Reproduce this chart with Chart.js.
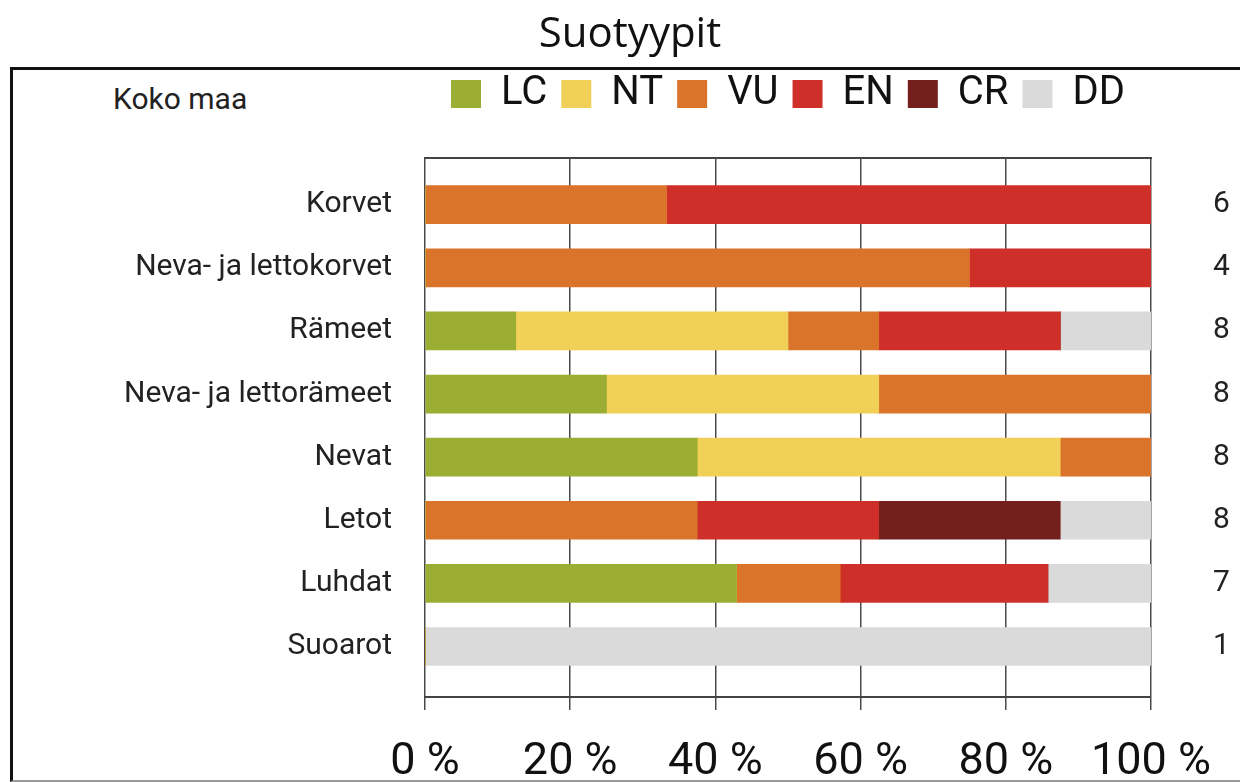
<!DOCTYPE html>
<html lang="fi">
<head>
  <meta charset="UTF-8">
  <title>Suotyypit</title>
  <script src="https://cdn.jsdelivr.net/npm/chart.js"></script>
  <style>
    html, body { margin: 0; padding: 0; background: #fff; overflow: hidden; }
    /* outer frame of the figure */
    #frame {
      position: absolute; left: 10px; top: 67px;
      width: 1300px; height: 710px;
      border-left: 3px solid #111; border-top: 3px solid #111;
      border-bottom: 2px solid #999;
    }
    #region {
      position: absolute; left: 113px; top: 84px;
      font: 30px Roboto, sans-serif; line-height: 30px; color: #222;
    }
    #chart { position: absolute; left: 0; top: 0; }
  </style>
</head>
<body>
  <div id="frame"></div>
  <div id="region">Koko maa</div>
  <canvas id="chart" width="1240" height="782"></canvas>

  <script>
    // habitat groups, top to bottom, and number of assessed types in each
    const labels = ['Korvet', 'Neva- ja lettokorvet', 'Rämeet', 'Neva- ja lettorämeet',
                    'Nevat', 'Letot', 'Luhdat', 'Suoarot'];
    const counts = [6, 4, 8, 8, 8, 8, 7, 1];

    // share of types per threat class (%)
    const LC = [0, 0, 12.5, 25, 37.5, 0, 42.9, 0];
    const NT = [0, 0, 37.5, 37.5, 50, 0, 0, 0];
    const VU = [33.3, 75, 12.5, 37.5, 12.5, 37.5, 14.3, 0];
    const EN = [66.7, 25, 25, 0, 0, 25, 28.6, 0];
    const CR = [0, 0, 0, 0, 0, 25, 0, 0];
    const DD = [0, 0, 12.5, 0, 0, 12.5, 14.3, 100];

    const xTicks = [0, 20, 40, 60, 80, 100];

    const series = [
      ['LC', LC, '#9bae33'],
      ['NT', NT, '#f1d057'],
      ['VU', VU, '#da742b'],
      ['EN', EN, '#ce2f29'],
      ['CR', CR, '#73201d'],
      ['DD', DD, '#dadada']
    ];

    const FONT = 'Roboto, "Noto Sans", sans-serif';
    const gridCol = '#4a4a4a';

    const datasets = series.map(function(s) {
      return {
        label: s[0],
        data: s[1].map(function(v, i) { return {x: v, y: i}; }),
        backgroundColor: s[2],
        borderWidth: 0,
        barThickness: 38
      };
    });

    // rows sit on a linear index axis so the plot frame can extend past the first/last bar
    const yMin = -0.74, yMax = 7.8;

    new Chart(document.getElementById('chart'), {
      type: 'bar',
      data: { datasets: datasets },
      options: {
        indexAxis: 'y',
        responsive: false,
        animation: false,
        layout: { padding: { left: 20 } },
        scales: {
          x: {
            type: 'linear', position: 'bottom', stacked: true,
            min: 0, max: 100,
            afterBuildTicks: function(scale) {
              scale.ticks = xTicks.map(function(v) { return {value: v}; });
            },
            afterFit: function(scale) { scale.height = 85; },
            grid: { color: gridCol, lineWidth: 1.5, tickLength: 13, tickColor: gridCol },
            border: { color: '#444', width: 2 },
            ticks: {
              padding: 26, color: '#111', maxRotation: 0,
              font: { family: FONT, size: 45 },
              callback: function(v) { return v + ' %'; }
            }
          },
          xTop: {
            type: 'linear', position: 'top', min: 0, max: 100,
            afterFit: function(scale) { scale.height = 34; },
            grid: { display: false },
            border: { color: '#444', width: 2 },
            ticks: { display: false }
          },
          y: {
            type: 'linear', position: 'left', stacked: true, reverse: true,
            offset: false,
            min: yMin, max: yMax,
            afterFit: function(scale) { scale.width = 405; },
            grid: { display: false, drawTicks: false, offset: false },
            border: { display: false },
            ticks: {
              stepSize: 1, includeBounds: false, autoSkip: false,
              padding: 33, color: '#222',
              font: { family: FONT, size: 30 },
              callback: function(v) { return labels[v] !== undefined ? labels[v] : ''; }
            }
          },
          yCount: {
            type: 'linear', position: 'right', reverse: true,
            offset: false,
            min: yMin, max: yMax,
            afterFit: function(scale) { scale.width = 89; },
            grid: { display: false, drawTicks: false, offset: false },
            border: { display: false },
            ticks: {
              stepSize: 1, includeBounds: false, autoSkip: false,
              padding: 62, color: '#222',
              font: { family: FONT, size: 30 },
              callback: function(v) { return counts[v] !== undefined ? String(counts[v]) : ''; }
            }
          }
        },
        plugins: {
          title: {
            display: true,
            text: 'Suotyypit',
            color: '#111',
            font: { family: '"Open Sans", sans-serif', size: 42, weight: 'normal', lineHeight: 32 / 42 },
            padding: { top: 19, bottom: 9 }
          },
          legend: {
            position: 'top',
            fullSize: false,
            labels: {
              boxWidth: 30, boxHeight: 28, padding: 14,
              color: '#111',
              font: { family: FONT, size: 40 }
            }
          },
          tooltip: { enabled: false }
        }
      }
    });
  </script>
</body>
</html>
